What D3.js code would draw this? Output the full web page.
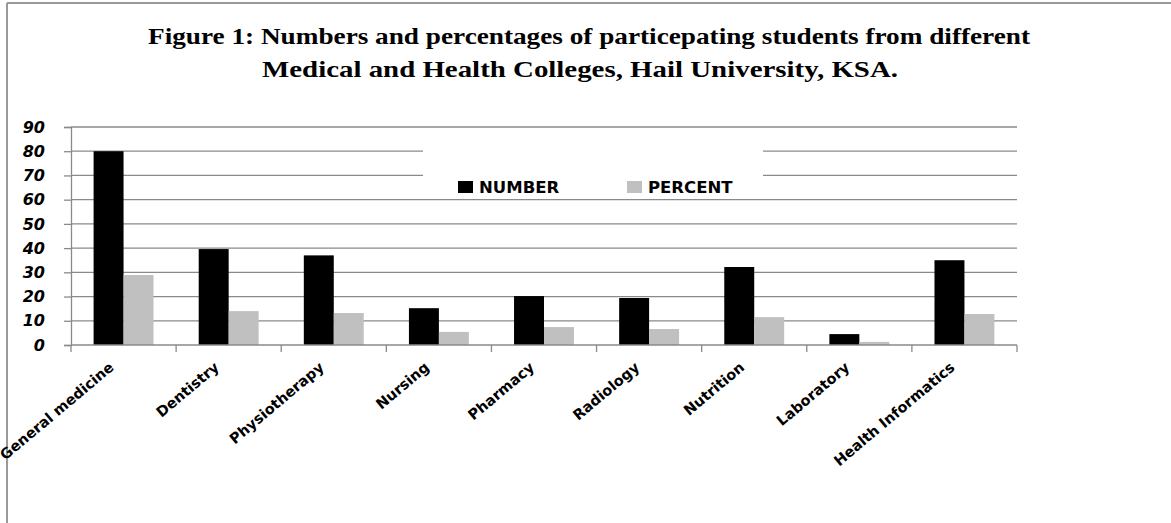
<!DOCTYPE html>
<html>
<head>
<meta charset="utf-8">
<script src="https://d3js.org/d3.v7.min.js"></script>
<style>
  body { margin: 0; background: #fff; }
</style>
</head>
<body>
<script>
var categories = ["General medicine", "Dentistry", "Physiotherapy", "Nursing", "Pharmacy",
                  "Radiology", "Nutrition", "Laboratory", "Health Informatics"];
var numberValues = [80, 39.6, 37, 15.2, 20.2, 19.4, 32.2, 4.5, 35];
var percentValues = [28.9, 14, 13.2, 5.4, 7.4, 6.6, 11.5, 1.3, 12.8];
var seriesNames = ["NUMBER", "PERCENT"];
var seriesColors = ["#000000", "#c0c0c0"];
var yTicks = [0, 10, 20, 30, 40, 50, 60, 70, 80, 90];
var titleLines = ["Figure 1: Numbers and percentages of particepating students from different",
                  "Medical and Health Colleges, Hail University, KSA."];

function drawChart() {
  var W = 1171, H = 523;
  var plotLeft = 71, plotRight = 1017, plotTop = 127, plotBottom = 345;
  var gridColor = "#8a8a8a";

  var svg = d3.select("body").append("svg")
      .attr("width", W)
      .attr("height", H);

  // outer frame (left and top edges only are visible)
  svg.append("line").attr("x1", 7).attr("x2", 7).attr("y1", 3).attr("y2", H)
      .attr("stroke", "#999").attr("stroke-width", 2);
  svg.append("line").attr("x1", 7).attr("x2", W).attr("y1", 3).attr("y2", 3)
      .attr("stroke", "#999").attr("stroke-width", 2);

  // title
  svg.selectAll(".title").data(titleLines).enter()
    .append("text")
      .attr("class", "title")
      .attr("x", function(d, i) { return i === 0 ? 589 : 580; })
      .attr("y", function(d, i) { return 44 + i * 33; })
      .attr("text-anchor", "middle")
      .attr("textLength", function(d, i) { return i === 0 ? 882 : 636; })
      .attr("lengthAdjust", "spacingAndGlyphs")
      .style("font-family", "'Liberation Serif', 'Times New Roman', serif")
      .style("font-weight", "bold")
      .style("font-size", "24px")
      .text(function(d) { return d; });

  var x0 = d3.scaleBand().domain(categories).range([plotLeft, plotRight]).paddingInner(0.43).paddingOuter(0.215);
  var x1 = d3.scaleBand().domain(seriesNames).range([0, x0.bandwidth()]);
  var y = d3.scaleLinear().domain([0, 90]).range([plotBottom, plotTop]);

  // gridlines
  svg.append("g").selectAll("line").data(yTicks.filter(function(d) { return d > 0; })).enter()
    .append("line")
      .attr("x1", plotLeft).attr("x2", plotRight)
      .attr("y1", function(d) { return y(d); })
      .attr("y2", function(d) { return y(d); })
      .attr("stroke", gridColor)
      .attr("stroke-width", 1.3);

  // y axis
  var yAxis = svg.append("g")
      .attr("transform", "translate(" + plotLeft + ",0)")
      .call(d3.axisLeft(y).tickValues(yTicks).tickSize(7).tickPadding(19));
  yAxis.select(".domain").attr("stroke", gridColor).attr("stroke-width", 1.3);
  yAxis.selectAll(".tick line").attr("stroke", gridColor).attr("stroke-width", 1.3);
  yAxis.selectAll("text")
      .style("font-family", "'DejaVu Sans', Verdana, sans-serif")
      .style("font-weight", "bold")
      .style("font-style", "italic")
      .style("font-size", "16px")
      .attr("fill", "#000");

  // bars
  var rows = categories.map(function(c, i) {
    return { cat: c, values: [numberValues[i], percentValues[i]] };
  });
  var groups = svg.append("g").selectAll("g").data(rows).enter()
    .append("g")
      .attr("transform", function(d) { return "translate(" + x0(d.cat) + ",0)"; });
  groups.selectAll("rect")
      .data(function(d) { return d.values.map(function(v, k) { return { s: seriesNames[k], v: v, k: k }; }); })
      .enter()
    .append("rect")
      .attr("x", function(d) { return x1(d.s); })
      .attr("width", x1.bandwidth())
      .attr("y", function(d) { return y(d.v); })
      .attr("height", function(d) { return y(0) - y(d.v); })
      .attr("fill", function(d) { return seriesColors[d.k]; });

  // x axis
  var boundaries = d3.range(categories.length + 1).map(function(i) {
    return plotLeft + i * (plotRight - plotLeft) / categories.length;
  });
  svg.append("line").attr("x1", plotLeft).attr("x2", plotRight).attr("y1", plotBottom).attr("y2", plotBottom)
      .attr("stroke", gridColor).attr("stroke-width", 1.3);
  svg.append("g").selectAll("line").data(boundaries).enter()
    .append("line")
      .attr("x1", function(d) { return d; }).attr("x2", function(d) { return d; })
      .attr("y1", plotBottom).attr("y2", plotBottom + 7)
      .attr("stroke", gridColor).attr("stroke-width", 1.3);

  svg.append("g").selectAll("text").data(categories).enter()
    .append("text")
      .attr("transform", function(d) {
        return "translate(" + (x0(d) + x0.bandwidth() / 2 - 12) + "," + (plotBottom + 20) + ") rotate(-40)";
      })
      .attr("text-anchor", "end")
      .attr("dy", "0.35em")
      .style("font-family", "'DejaVu Sans', sans-serif")
      .style("font-weight", "bold")
      .style("font-size", "14.5px")
      .text(function(d) { return d; });

  // legend
  var legend = svg.append("g");
  legend.append("rect").attr("x", 423).attr("y", 140).attr("width", 340).attr("height", 55).attr("fill", "#fff");
  var legendX = [458, 627];
  var items = legend.selectAll("g").data(seriesNames).enter()
    .append("g")
      .attr("transform", function(d, i) { return "translate(" + legendX[i] + ",181)"; });
  items.append("rect").attr("width", 15).attr("height", 12)
      .attr("fill", function(d, i) { return seriesColors[i]; });
  items.append("text")
      .attr("x", 21).attr("y", 6).attr("dy", "0.36em")
      .style("font-family", "'DejaVu Sans', sans-serif")
      .style("font-weight", "bold")
      .style("font-size", "16.5px")
      .text(function(d) { return d; });
}

drawChart();
</script>
</body>
</html>
